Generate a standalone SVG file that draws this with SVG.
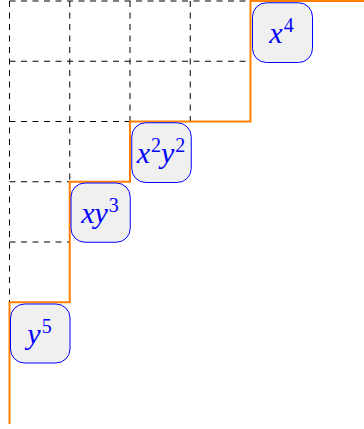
<svg xmlns="http://www.w3.org/2000/svg" width="364" height="429" viewBox="0 0 364 429">
<style>
.grid{stroke:#000;stroke-width:1;stroke-dasharray:6 5.5;fill:none}
.stair{stroke:#ff8000;stroke-width:2;fill:none}
.box{fill:#f0f0f0;stroke:#0000ff;stroke-width:1}
.lbl{font-family:"Liberation Serif","Times New Roman",serif;font-style:italic;font-size:30px;fill:#0000ff;text-anchor:middle}
.sup{font-size:20px;font-style:normal}
</style>
<rect width="364" height="429" fill="#fff"/>
<g id="grid" class="grid">
<path d="M9.5 1H250.5M9.5 61.25H250.5M9.5 121.5H130M9.5 181.75H69.75M9.5 242H69.75"/>
<path d="M9.5 1V302.25M69.75 1V181.75M130 1V121.5M190.25 1V121.5"/>
</g>
<g id="connectors">
<path class="stair" d="M9.5 424V302.25H69.75V181.75H130V121.5H250.5V1H364"/>
</g>
<g id="n_x4">
<rect class="box" x="252.5" y="2.75" width="60" height="59.75" rx="14"/>
<text class="lbl" x="281.5" y="43">x<tspan class="sup" dx="1" dy="-11">4</tspan></text>
</g>
<g id="n_x2y2">
<rect class="box" x="131.75" y="122.75" width="59.5" height="59.75" rx="14"/>
<text class="lbl" x="161" y="163">x<tspan class="sup" dx="1" dy="-11">2</tspan><tspan dy="11">y</tspan><tspan class="sup" dx="1" dy="-11">2</tspan></text>
</g>
<g id="n_xy3">
<rect class="box" x="71" y="183" width="59.25" height="59.25" rx="14"/>
<text class="lbl" x="100" y="223">xy<tspan class="sup" dx="1" dy="-11">3</tspan></text>
</g>
<g id="n_y5">
<rect class="box" x="10.5" y="304" width="59.5" height="59" rx="14"/>
<text class="lbl" x="39.5" y="344">y<tspan class="sup" dx="1" dy="-11">5</tspan></text>
</g>
</svg>
